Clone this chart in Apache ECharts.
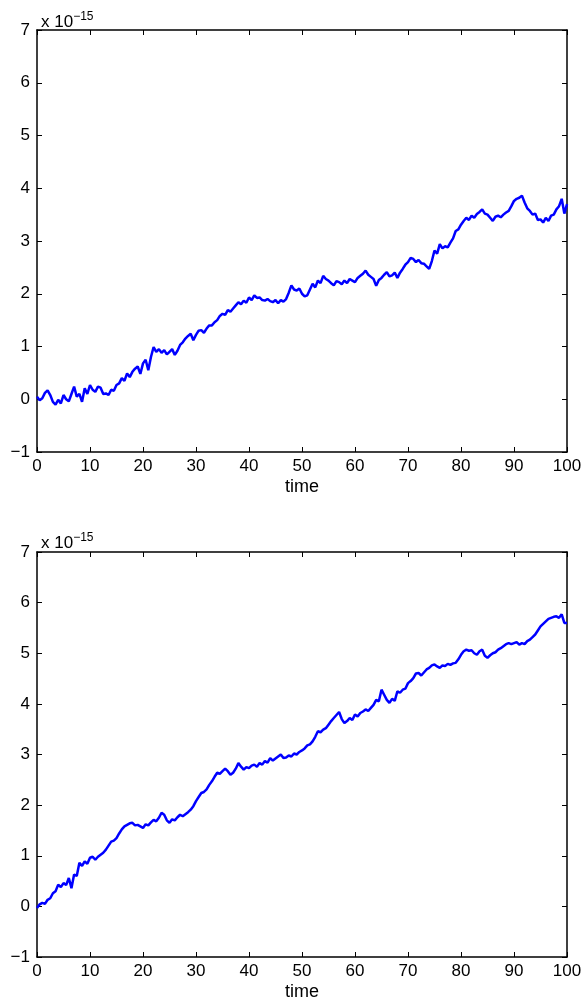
<!DOCTYPE html>
<html>
<head>
<meta charset="utf-8">
<style>
  html, body { margin: 0; padding: 0; background: #fff; }
  #chart { width: 586px; height: 1002px; }
</style>
<script src="https://cdn.jsdelivr.net/npm/echarts@6/dist/echarts.min.js"></script>
</head>
<body>
<div id="chart"></div>
<script>
// sampled every 0.5 time units, values in units of 1e-15
var timeStep = 0.5;
var xTicks = [0, 10, 20, 30, 40, 50, 60, 70, 80, 90, 100];
var yTicks = [-1, 0, 1, 2, 3, 4, 5, 6, 7];
var scaleLabel = 'x 10';
var scaleExp = '\u221215';

var topValues = [
  0.05, -0.02, 0.02, 0.12, 0.17, 0.08, -0.05, -0.1, -0.01, -0.08,
  0.08, 0.0, -0.04, 0.1, 0.24, 0.05, 0.1, -0.05, 0.21, 0.1,
  0.27, 0.18, 0.14, 0.24, 0.22, 0.1, 0.11, 0.08, 0.18, 0.16,
  0.27, 0.3, 0.4, 0.35, 0.49, 0.42, 0.52, 0.58, 0.62, 0.48,
  0.68, 0.75, 0.55, 0.8, 0.99, 0.9, 0.95, 0.88, 0.93, 0.85,
  0.9, 0.95, 0.84, 0.92, 1.03, 1.08, 1.15, 1.2, 1.24, 1.12,
  1.22, 1.3, 1.31, 1.26, 1.34, 1.4, 1.4, 1.46, 1.5, 1.58,
  1.62, 1.6, 1.69, 1.66, 1.72, 1.78, 1.84, 1.8, 1.87, 1.83,
  1.93, 1.88, 1.97, 1.92, 1.93, 1.88, 1.87, 1.9, 1.86, 1.84,
  1.88, 1.82, 1.88, 1.85, 1.9, 2.02, 2.16, 2.08, 2.06, 2.1,
  2.0, 1.95, 1.97, 2.08, 2.19, 2.12, 2.25, 2.2, 2.34, 2.28,
  2.25, 2.2, 2.16, 2.24, 2.22, 2.18, 2.25, 2.2, 2.28, 2.25,
  2.22, 2.3, 2.34, 2.38, 2.44, 2.36, 2.32, 2.28, 2.15, 2.26,
  2.3, 2.36, 2.41, 2.33, 2.35, 2.4, 2.3, 2.4, 2.47, 2.55,
  2.6, 2.68, 2.66, 2.6, 2.64, 2.58, 2.57, 2.52, 2.47, 2.62,
  2.82, 2.76, 2.94, 2.86, 2.9, 2.88, 2.97, 3.05, 3.19, 3.22,
  3.31, 3.38, 3.44, 3.4, 3.48, 3.44, 3.51, 3.55, 3.6, 3.52,
  3.5, 3.44, 3.38, 3.46, 3.48, 3.45, 3.5, 3.54, 3.57, 3.66,
  3.76, 3.8, 3.82, 3.86, 3.73, 3.62, 3.57, 3.5, 3.52, 3.4,
  3.41, 3.35, 3.44, 3.38, 3.48, 3.5, 3.6, 3.66, 3.8, 3.52,
  3.7
];

var bottomValues = [
  -0.03, 0.04, 0.07, 0.05, 0.13, 0.16, 0.26, 0.3, 0.43, 0.38,
  0.46, 0.42, 0.56, 0.36, 0.63, 0.6, 0.86, 0.8, 0.89, 0.84,
  0.96, 0.98, 0.92, 0.98, 1.02, 1.06, 1.12, 1.2, 1.28, 1.3,
  1.35, 1.44, 1.52, 1.58, 1.61, 1.64, 1.65, 1.6, 1.61, 1.58,
  1.55, 1.62, 1.6, 1.66, 1.71, 1.68, 1.75, 1.85, 1.81, 1.7,
  1.65, 1.72, 1.7, 1.76, 1.81, 1.78, 1.82, 1.86, 1.91, 1.98,
  2.08, 2.16, 2.24, 2.26, 2.31, 2.4, 2.47, 2.56, 2.64, 2.62,
  2.67, 2.72, 2.67, 2.6, 2.64, 2.72, 2.83, 2.76, 2.7, 2.75,
  2.73, 2.78, 2.8, 2.76, 2.83, 2.8, 2.87, 2.84, 2.93, 2.88,
  2.92, 2.96, 3.0, 2.93, 2.94, 2.98, 2.96, 3.02, 3.0, 3.05,
  3.08, 3.12, 3.18, 3.2, 3.26, 3.35, 3.46, 3.44, 3.49, 3.52,
  3.59, 3.66, 3.72, 3.78, 3.84, 3.7, 3.62, 3.66, 3.72, 3.68,
  3.79, 3.75, 3.82, 3.85, 3.89, 3.86, 3.92, 3.98, 4.08, 4.05,
  4.28, 4.18, 4.08, 4.02, 4.1, 4.06, 4.25, 4.22, 4.28, 4.3,
  4.41, 4.45, 4.51, 4.6, 4.61, 4.56, 4.62, 4.68, 4.71, 4.76,
  4.78, 4.74, 4.71, 4.76, 4.75, 4.79, 4.77, 4.8, 4.81, 4.88,
  4.97, 5.04, 5.07, 5.05, 5.06, 5.0, 4.97, 5.04, 5.07, 4.95,
  4.91, 4.96, 5.0, 5.02, 5.07, 5.1, 5.14, 5.18, 5.2, 5.18,
  5.2, 5.22, 5.17, 5.2, 5.18, 5.24, 5.27, 5.32, 5.37, 5.45,
  5.53, 5.58, 5.63, 5.68, 5.7, 5.72, 5.73, 5.7, 5.77, 5.6,
  5.6
];

var font = 'Liberation Sans, Arial, Helvetica, sans-serif';

function pairs(vals) {
  return vals.map(function (v, i) { return [i * timeStep, v]; });
}

function minus(v) {
  return String(v).replace('-', '\u2212');
}

// one grid = bottom/left axes with labels + top/right axes only for ticks
function makeAxes(gi) {
  var tick = { show: true, inside: true, length: 5, lineStyle: { color: '#000', width: 1 } };
  var line = { show: true, onZero: false, lineStyle: { color: '#000', width: 1.5 } };
  var xa = {
    type: 'value', gridIndex: gi, position: 'bottom',
    min: xTicks[0], max: xTicks[xTicks.length - 1], interval: 10,
    axisLine: line, axisTick: tick, splitLine: { show: false },
    axisLabel: { color: '#000', fontSize: 17, fontFamily: font, margin: 6 },
    name: 'time', nameLocation: 'middle', nameGap: 26,
    nameTextStyle: { color: '#000', fontSize: 18, fontFamily: font }
  };
  var xt = {
    type: 'value', gridIndex: gi, position: 'top',
    min: xTicks[0], max: xTicks[xTicks.length - 1], interval: 10,
    axisLine: line, axisTick: tick, axisLabel: { show: false }, splitLine: { show: false }
  };
  var ya = {
    type: 'value', gridIndex: gi, position: 'left',
    min: yTicks[0], max: yTicks[yTicks.length - 1], interval: 1,
    axisLine: line, axisTick: tick, splitLine: { show: false },
    axisLabel: { color: '#000', fontSize: 17, fontFamily: font, margin: 7, formatter: minus }
  };
  var yr = {
    type: 'value', gridIndex: gi, position: 'right',
    min: yTicks[0], max: yTicks[yTicks.length - 1], interval: 1,
    axisLine: line, axisTick: tick, axisLabel: { show: false }, splitLine: { show: false }
  };
  return { x: [xa, xt], y: [ya, yr] };
}

var a0 = makeAxes(0);
var a1 = makeAxes(1);

function scaleTitle(top) {
  return {
    left: 36, top: top,
    text: '{b|' + scaleLabel + '}{s|' + scaleExp + '}',
    textStyle: {
      fontWeight: 'normal',
      rich: {
        b: { fontSize: 17, fontFamily: font, color: '#000', fontWeight: 'normal', verticalAlign: 'bottom' },
        s: { fontSize: 12, fontFamily: font, color: '#000', fontWeight: 'normal', verticalAlign: 'top', padding: [0, 0, 8, 0] }
      }
    }
  };
}

var chart = echarts.init(document.getElementById('chart'));
chart.setOption({
  animation: false,
  backgroundColor: '#fff',
  title: [scaleTitle(6), scaleTitle(527)],
  grid: [
    { left: 37, top: 30, width: 530, height: 422 },
    { left: 37, top: 552, width: 530, height: 405 }
  ],
  xAxis: a0.x.concat(a1.x),
  yAxis: a0.y.concat(a1.y),
  series: [
    {
      type: 'line', xAxisIndex: 0, yAxisIndex: 0, data: pairs(topValues),
      showSymbol: false, lineStyle: { color: '#0000ff', width: 2.5 }
    },
    {
      type: 'line', xAxisIndex: 2, yAxisIndex: 2, data: pairs(bottomValues),
      showSymbol: false, lineStyle: { color: '#0000ff', width: 2.5 }
    }
  ]
});
</script>
</body>
</html>
